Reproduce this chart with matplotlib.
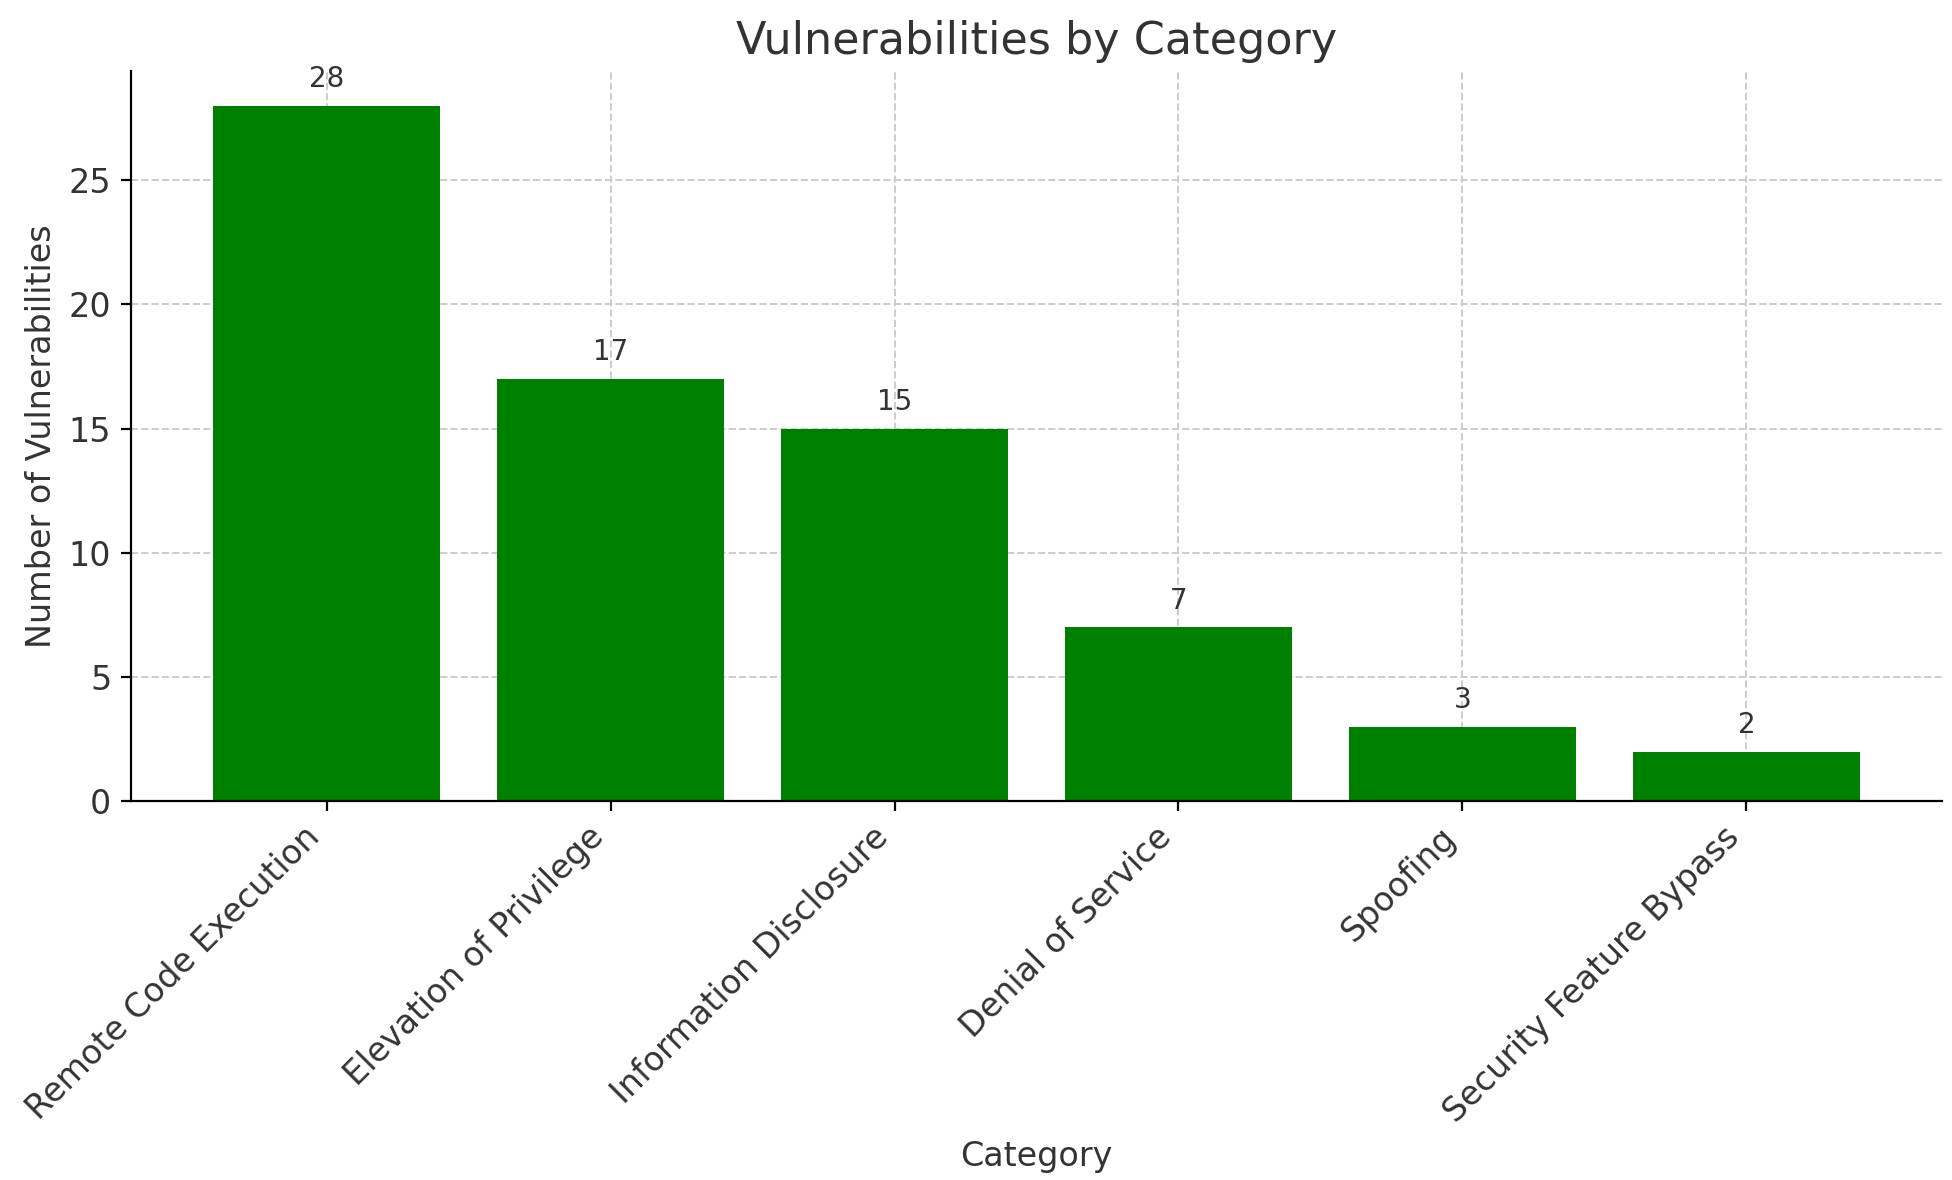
import matplotlib.pyplot as plt

# Data
categories = ["Remote Code Execution", "Elevation of Privilege", "Information Disclosure",
              "Denial of Service", "Spoofing", "Security Feature Bypass"]
counts = [28, 17, 15, 7, 3, 2]

fig, ax = plt.subplots(figsize=(9.76, 5.9), dpi=200)
bars = ax.bar(categories, counts, color="green", zorder=2)

for b, v in zip(bars, counts):
    ax.text(b.get_x() + b.get_width() / 2, v + 0.5, str(v), ha="center", va="bottom",
            fontsize=10, color="#333333")

ax.set_title("Vulnerabilities by Category", fontsize=16, color="#333333")
ax.set_xlabel("Category", fontsize=12, color="#333333")
ax.set_ylabel("Number of Vulnerabilities", fontsize=12, color="#333333")
ax.set_ylim(0, 29.4)
ax.grid(True, linestyle="--", color="#cccccc", linewidth=0.7, zorder=3)
ax.spines["top"].set_visible(False)
ax.spines["right"].set_visible(False)
plt.xticks(rotation=45, ha="right", fontsize=12, color="#333333")
plt.yticks(fontsize=12, color="#333333")
plt.subplots_adjust(left=0.067, right=0.995, top=0.94, bottom=0.321)
plt.savefig("out.png", dpi=200)
